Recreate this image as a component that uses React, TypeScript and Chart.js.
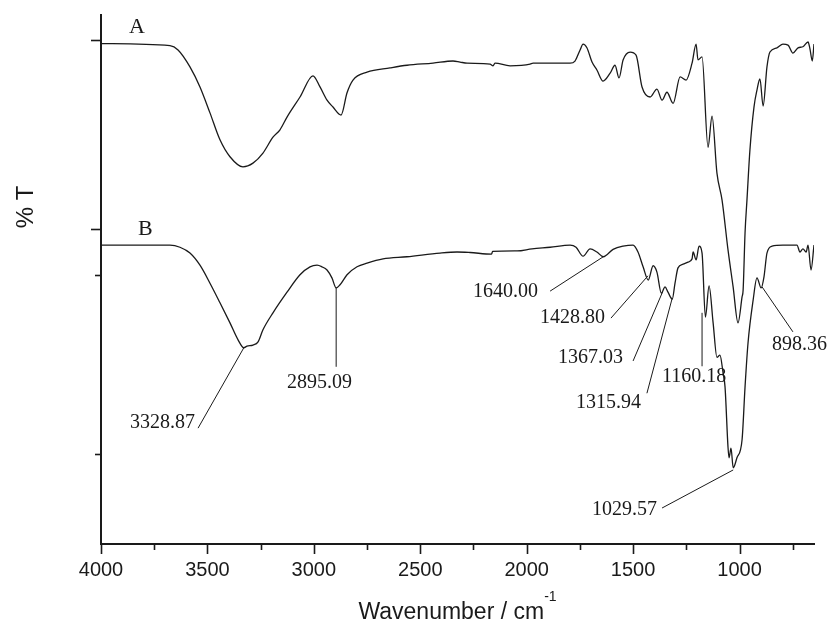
import React, { useEffect, useRef } from 'react';
import { Chart, registerables } from 'chart.js';

Chart.register(...registerables);

// Spectrum A
const wavenumberA = [4000, 3676, 3638, 3582, 3535, 3488, 3441, 3394, 3333, 3286, 3239, 3192, 3159, 3126, 3065, 3004, 2971, 2938, 2910, 2872, 2844, 2816, 2750, 2642, 2562, 2440, 2346, 2313, 2280, 2172, 2158, 2149, 2078, 1984, 1970, 1890, 1796, 1773, 1749, 1735, 1717, 1693, 1670, 1641, 1608, 1585, 1566, 1547, 1514, 1486, 1458, 1420, 1388, 1364, 1341, 1312, 1279, 1251, 1223, 1204, 1195, 1176, 1148, 1129, 1106, 1082, 1054, 1030, 1007, 988, 983, 974, 965, 951, 932, 918, 904, 889, 871, 857, 824, 796, 772, 749, 725, 702, 678, 669, 658, 650];
const transmittanceA = [94.6, 94.2, 93.4, 90.2, 86.4, 81.5, 76.4, 73.2, 71.3, 72.0, 73.9, 76.9, 78.3, 80.7, 84.5, 88.5, 86.4, 83.9, 82.6, 81.1, 85.3, 87.7, 89.2, 90.0, 90.5, 90.9, 91.3, 91.1, 90.9, 90.7, 90.4, 90.9, 90.4, 90.7, 90.9, 90.9, 90.9, 91.3, 93.4, 94.5, 93.8, 91.1, 89.6, 87.5, 89.0, 90.5, 88.1, 91.5, 93.0, 92.4, 86.4, 84.5, 86.0, 83.9, 85.4, 83.3, 88.3, 87.7, 90.9, 94.5, 91.5, 92.1, 75.0, 80.9, 70.1, 65.0, 55.6, 48.6, 41.8, 46.7, 48.0, 58.8, 65.0, 74.5, 82.6, 85.8, 87.9, 82.8, 90.2, 93.0, 93.8, 94.5, 94.3, 92.8, 93.8, 94.0, 94.9, 93.6, 91.3, 94.5];

// Spectrum B
const wavenumberB = [4000, 3676, 3629, 3582, 3535, 3488, 3441, 3394, 3356, 3328.87, 3314, 3286, 3262, 3239, 3192, 3126, 3065, 3018, 2985, 2962, 2938, 2915, 2895.09, 2877, 2844, 2797, 2750, 2675, 2562, 2407, 2327, 2266, 2165, 2160, 2045, 1975, 1890, 1796, 1768, 1735, 1702, 1670, 1640, 1594, 1547, 1500, 1477, 1453, 1428.8, 1406, 1388, 1367.03, 1350, 1336, 1315.94, 1303, 1289, 1265, 1242, 1223, 1218, 1204, 1190, 1176, 1160.18, 1143, 1124, 1106, 1092, 1077, 1068, 1054, 1049, 1040, 1029.57, 1012, 988, 974, 960, 936, 918, 898.36, 885, 871, 847, 796, 730, 716, 702, 687, 678, 664, 650];
const transmittanceB = [56.5, 56.5, 56.1, 55.0, 52.7, 49.3, 45.6, 41.8, 38.6, 37.1, 37.4, 37.6, 38.2, 40.5, 43.7, 47.6, 50.9, 52.4, 52.7, 52.4, 51.8, 50.3, 48.4, 49.0, 50.9, 52.4, 53.1, 53.9, 54.3, 55.0, 55.2, 55.1, 54.8, 55.3, 55.4, 55.8, 56.1, 56.5, 56.1, 54.4, 55.8, 55.2, 54.3, 55.7, 56.3, 56.5, 55.2, 52.4, 49.9, 52.6, 51.4, 47.4, 48.6, 47.6, 46.3, 49.3, 52.2, 52.9, 53.3, 53.9, 55.2, 53.7, 56.3, 55.0, 42.9, 48.8, 41.8, 35.3, 35.7, 32.3, 29.7, 18.3, 16.3, 18.1, 14.4, 16.3, 19.7, 29.7, 38.0, 46.1, 50.3, 48.4, 50.5, 55.0, 56.3, 56.5, 56.5, 55.2, 55.8, 55.2, 56.5, 51.8, 56.5];

// Axis ticks
const xMajorTicks = [4000, 3500, 3000, 2500, 2000, 1500, 1000];
const xMinorTicks = [3750, 3250, 2750, 2250, 1750, 1250, 750];
const yMajorTicks = [95.3, 59.5];
const yMinorTicks = [50.9, 17.0];

// Curve labels
const curveNames = ['A', 'B'];
const curveNameX = [3868, 3826];
const curveNameY = [96.6, 58.4];

// Peak annotations
const peakLabels = ['3328.87', '2895.09', '1640.00', '1428.80', '1367.03', '1315.94', '1160.18', '1029.57', '898.36'];
const peakTipX = [3328.87, 2895.09, 1640, 1430, 1362, 1316, 1176, 1029.57, 894];
const peakTipY = [37.1, 48.4, 54.3, 50.7, 47.6, 46.5, 43.7, 14.0, 48.6];
const peakTailX = [3544, 2895.09, 1890, 1604, 1500, 1435, 1176, 1364, 749];
const peakTailY = [21.9, 33.5, 47.8, 42.7, 34.6, 28.5, 33.6, 6.8, 40.1];
const peakTextX = [3558, 3126, 1947, 1632, 1547, 1463, 1364, 1388, 847];
const peakTextY = [21.9, 29.5, 46.7, 41.8, 34.2, 25.7, 30.6, 5.5, 36.7];
const peakTextAlign = ['right', 'left', 'right', 'right', 'right', 'right', 'left', 'right', 'left'];

const SANS = "'Liberation Sans', Arial, Helvetica, sans-serif";
const SERIF = "'Liberation Serif', 'Times New Roman', serif";
const INK = '#1a1a1a';

const decorPlugin = {
  id: 'decor',
  afterDraw(chart: any) {
    const { ctx, chartArea } = chart;
    const xs = chart.scales.x;
    const ys = chart.scales.y;
    ctx.save();
    ctx.strokeStyle = INK;
    ctx.fillStyle = INK;
    ctx.lineWidth = 1.6;
    // x tick marks
    const bottom = chartArea.bottom;
    xMajorTicks.forEach((v) => {
      const px = Math.round(xs.getPixelForValue(v)) + 0.5;
      ctx.beginPath();
      ctx.moveTo(px, bottom);
      ctx.lineTo(px, bottom + 10);
      ctx.stroke();
    });
    xMinorTicks.forEach((v) => {
      const px = Math.round(xs.getPixelForValue(v)) + 0.5;
      ctx.beginPath();
      ctx.moveTo(px, bottom);
      ctx.lineTo(px, bottom + 6);
      ctx.stroke();
    });
    // y tick marks
    const left = chartArea.left;
    yMajorTicks.forEach((v) => {
      const py = Math.round(ys.getPixelForValue(v)) + 0.5;
      ctx.beginPath();
      ctx.moveTo(left, py);
      ctx.lineTo(left - 10, py);
      ctx.stroke();
    });
    yMinorTicks.forEach((v) => {
      const py = Math.round(ys.getPixelForValue(v)) + 0.5;
      ctx.beginPath();
      ctx.moveTo(left, py);
      ctx.lineTo(left - 6, py);
      ctx.stroke();
    });

    // curve names
    ctx.font = `22px ${SERIF}`;
    ctx.textBaseline = 'alphabetic';
    ctx.textAlign = 'left';
    curveNames.forEach((n, i) => {
      ctx.fillText(n, xs.getPixelForValue(curveNameX[i]), ys.getPixelForValue(curveNameY[i]));
    });

    // peak annotations
    ctx.lineWidth = 1;
    ctx.font = `20px ${SERIF}`;
    peakLabels.forEach((lab, i) => {
      ctx.beginPath();
      ctx.moveTo(xs.getPixelForValue(peakTipX[i]), ys.getPixelForValue(peakTipY[i]));
      ctx.lineTo(xs.getPixelForValue(peakTailX[i]), ys.getPixelForValue(peakTailY[i]));
      ctx.stroke();
      ctx.textAlign = peakTextAlign[i] as CanvasTextAlign;
      ctx.fillText(lab, xs.getPixelForValue(peakTextX[i]), ys.getPixelForValue(peakTextY[i]));
    });

    // y title
    ctx.save();
    ctx.translate(33, 207);
    ctx.rotate(-Math.PI / 2);
    ctx.textAlign = 'center';
    ctx.textBaseline = 'alphabetic';
    ctx.font = `24px ${SANS}`;
    ctx.fillText('% T', 0, 0);
    ctx.restore();

    // x title with superscript
    ctx.textAlign = 'left';
    ctx.textBaseline = 'alphabetic';
    ctx.font = `23px ${SANS}`;
    const main = 'Wavenumber / cm';
    const w = ctx.measureText(main).width;
    ctx.font = `14px ${SANS}`;
    const sw = ctx.measureText('-1').width;
    const cx = (chartArea.left + chartArea.right) / 2;
    const startX = cx - (w + sw) / 2;
    ctx.font = `23px ${SANS}`;
    ctx.fillText(main, startX, 619);
    ctx.font = `14px ${SANS}`;
    ctx.fillText('-1', startX + w, 601);
    ctx.restore();
  },
};

export default function App() {
  const canvasRef = useRef<HTMLCanvasElement | null>(null);

  useEffect(() => {
    const canvas = canvasRef.current;
    if (!canvas) return;
    const chart = new Chart(canvas, {
      type: 'line',
      data: {
        datasets: [
          {
            label: 'A',
            data: wavenumberA.map((x, i) => ({ x, y: transmittanceA[i] })),
            borderColor: INK,
            borderWidth: 1.3,
            pointRadius: 0,
            fill: false,
            tension: 0.4,
            cubicInterpolationMode: 'monotone',
          },
          {
            label: 'B',
            data: wavenumberB.map((x, i) => ({ x, y: transmittanceB[i] })),
            borderColor: INK,
            borderWidth: 1.3,
            pointRadius: 0,
            fill: false,
            tension: 0.4,
            cubicInterpolationMode: 'monotone',
          },
        ],
      },
      options: {
        responsive: false,
        animation: false,
        devicePixelRatio: 1,
        layout: { padding: { top: 15, right: 13, left: 0, bottom: 0 } },
        plugins: {
          legend: { display: false },
          tooltip: { enabled: false },
          title: { display: false },
        },
        scales: {
          x: {
            type: 'linear',
            reverse: true,
            min: 650,
            max: 4000,
            grid: { display: false, drawTicks: false, tickLength: 0 },
            border: { display: true, color: INK, width: 2 },
            ticks: {
              padding: 14,
              color: INK,
              font: { family: SANS, size: 20 },
              maxRotation: 0,
              autoSkip: false,
              callback: (value: any) => String(value),
            },
            afterBuildTicks: (scale: any) => {
              scale.ticks = xMajorTicks.map((v) => ({ value: v }));
            },
            afterFit: (scale: any) => {
              scale.height = 78;
            },
          },
          y: {
            type: 'linear',
            min: 0,
            max: 100,
            grid: { display: false, drawTicks: false, tickLength: 0 },
            border: { display: true, color: INK, width: 2 },
            ticks: { display: false },
            afterFit: (scale: any) => {
              scale.width = 101;
            },
          },
        },
      },
      plugins: [decorPlugin],
    } as any);
    return () => chart.destroy();
  }, []);

  return (
    <canvas
      ref={canvasRef}
      width={827}
      height={622}
      style={{ position: 'absolute', left: 0, top: 0, width: 827, height: 622, background: '#fff' }}
    />
  );
}
